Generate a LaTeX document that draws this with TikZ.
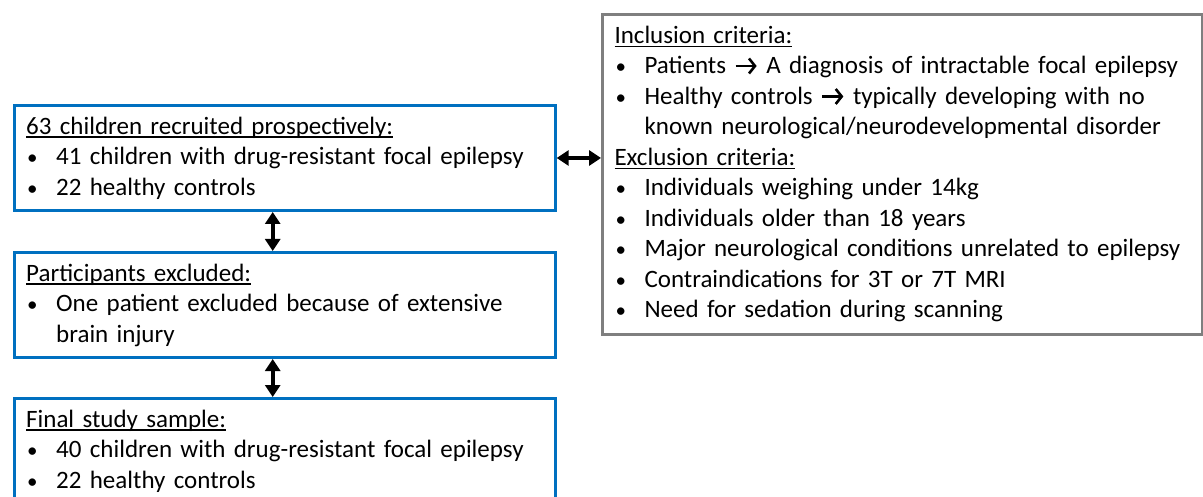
\documentclass[tikz,border=0pt]{standalone}
\usepackage{fontspec}
\setmainfont{Carlito}
\usetikzlibrary{positioning,arrows.meta}
\definecolor{pptblue}{HTML}{0070C0}
\definecolor{pptgray}{HTML}{7F7F7F}
\newcommand{\hdr}[1]{\leavevmode\setbox0\hbox{#1}\rlap{\rule[-3.5pt]{\wd0}{1.2pt}}\box0}
\newcommand{\bul}{\makebox[30pt][l]{\hspace{1pt}\fontsize{21pt}{21pt}\selectfont•}}
\newcommand{\cont}{\hspace*{30pt}}
\newcommand{\rarr}{\tikz[baseline=-8pt]\draw[line width=2.6pt, -{Straight Barb[length=6pt,width=15pt,line width=2.6pt]}] (0pt,0pt) -- (21pt,0pt);}

\begin{document}
\begin{tikzpicture}[
    x=1pt, y=-1pt,
    font=\fontsize{25pt}{30.5pt}\selectfont,
    panel/.style={draw=pptblue, line width=3pt, anchor=north west, align=left, minimum width=541pt, minimum height=105pt, text width=517pt, inner xsep=12pt},
    critbox/.style={draw=pptgray, line width=3pt, anchor=north west, align=left, minimum width=600pt, minimum height=320pt, text width=576pt, inner xsep=12pt},
    link/.style={{Triangle[length=12pt,width=15pt]}-{Triangle[length=12pt,width=15pt]}, line width=4pt, black}
]
\useasboundingbox (0,0) rectangle (1203,497);
\clip (0,0) rectangle (1203,497);

% Study flow boxes
\node[panel] (recruited) at (12.7,104) {\hdr{63 children recruited prospectively:}\\
  \bul 41 children with drug-resistant focal epilepsy\\
  \bul 22 healthy controls};
\node[panel] (excluded) at (12.7,251) {\hdr{Participants excluded:}\\
  \bul One patient excluded because of extensive\\
  \cont brain injury};
\node[panel] (final) at (12.7,397) {\hdr{Final study sample:}\\
  \bul 40 children with drug-resistant focal epilepsy\\
  \bul 22 healthy controls};

% Criteria box
\node[critbox] (criteria) at (601,12.7) {\hdr{Inclusion criteria:}\\
  \bul Patients \rarr{} A diagnosis of intractable focal epilepsy\\
  \bul Healthy controls \rarr{} typically developing with no\\
  \cont known neurological/neurodevelopmental disorder\\
  \hdr{Exclusion criteria:}\\
  \bul Individuals weighing under 14kg\\
  \bul Individuals older than 18 years\\
  \bul Major neurological conditions unrelated to epilepsy\\
  \bul Contraindications for 3T or 7T MRI\\
  \bul Need for sedation during scanning};

% Double-headed links
\draw[link] (recruited.east) -- (recruited.east -| criteria.west);
\draw[link] ([xshift=-12pt]recruited.south) -- ([xshift=-12pt]excluded.north);
\draw[link] ([xshift=-12pt]excluded.south) -- ([xshift=-12pt]final.north);

\end{tikzpicture}
\end{document}
